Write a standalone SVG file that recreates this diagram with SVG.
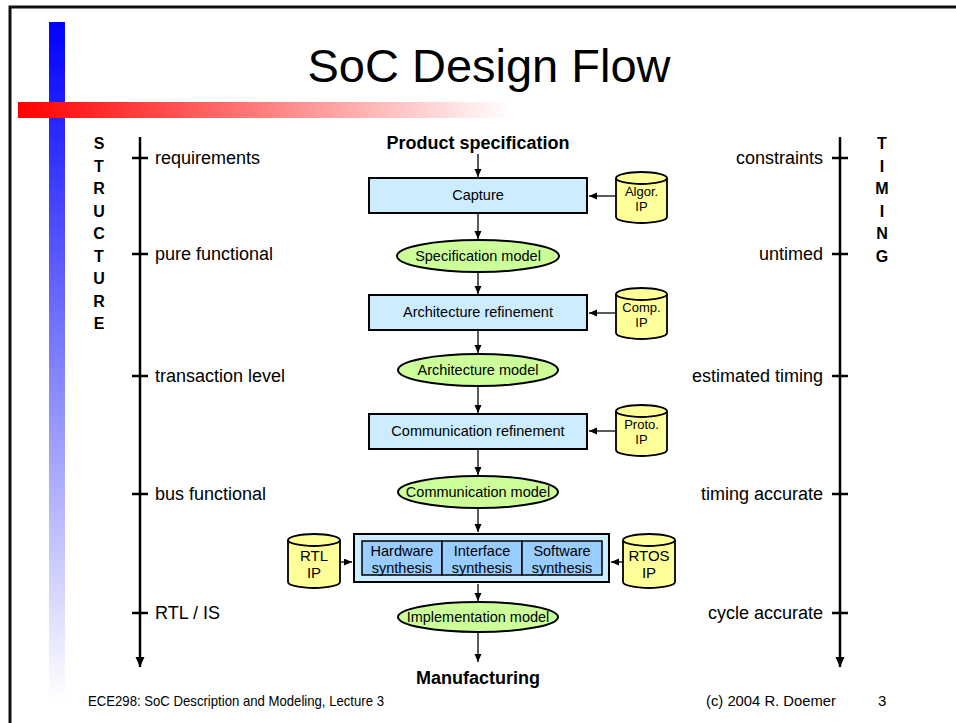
<svg xmlns="http://www.w3.org/2000/svg" width="956" height="723" viewBox="0 0 956 723">
  <defs>
    <linearGradient id="gradBlue" x1="0" y1="0" x2="0" y2="1">
      <stop offset="0" stop-color="#0000ff"/>
      <stop offset="1" stop-color="#ffffff"/>
    </linearGradient>
    <linearGradient id="gradRed" x1="0" y1="0" x2="1" y2="0">
      <stop offset="0" stop-color="#ff0000"/>
      <stop offset="1" stop-color="#ffffff"/>
    </linearGradient>
    <marker id="arr" markerUnits="userSpaceOnUse" markerWidth="9" markerHeight="8" refX="8" refY="3.5" orient="auto">
      <path d="M0,0 L8,3.5 L0,7 z" fill="#000"/>
    </marker>
    <marker id="arrAxis" markerUnits="userSpaceOnUse" markerWidth="11" markerHeight="10" refX="10" refY="4.5" orient="auto">
      <path d="M0,0 L10,4.5 L0,9 z" fill="#000"/>
    </marker>
  </defs>
  <style>
    text { font-family: "Liberation Sans", Arial, sans-serif; fill: #000; }
    .title { font-size: 47px; text-anchor: middle; }
    .lbl { font-size: 18px; }
    .lblR { font-size: 18px; text-anchor: end; }
    .axisLetter { font-size: 16px; font-weight: bold; text-anchor: middle; }
    .endpoint { font-size: 18px; font-weight: bold; text-anchor: middle; }
    .box { fill: #ccecff; stroke: #000; stroke-width: 2; }
    .model { fill: #ccff99; stroke: #000; stroke-width: 2; }
    .db { fill: #ffff99; stroke: #000; stroke-width: 1.8; }
    .inner { fill: #99ccff; stroke: #000; stroke-width: 1.5; }
    .t { font-size: 14.5px; text-anchor: middle; }
    .dbt { font-size: 13px; text-anchor: middle; }
    .dbtL { font-size: 15px; text-anchor: middle; }
    .conn { stroke: #000; stroke-width: 1.3; fill: none; marker-end: url(#arr); }
    .axis { stroke: #000; stroke-width: 2.5; fill: none; marker-end: url(#arrAxis); }
    .tick { stroke: #000; stroke-width: 2.5; }
    .foot { font-size: 15px; }
  </style>

  <!-- slide background and frame -->
  <rect x="0" y="0" width="956" height="723" fill="#ffffff"/>
  <path d="M10,723 V7 H956" fill="none" stroke="#111" stroke-width="3"/>

  <!-- decorative bars -->
  <rect x="49" y="22" width="16" height="678" fill="url(#gradBlue)"/>
  <rect x="18" y="102" width="494" height="16" fill="url(#gradRed)"/>

  <text class="title" x="489" y="82">SoC Design Flow</text>

  <!-- structure axis -->
  <g id="structure-axis">
    <line class="axis" x1="140" y1="137" x2="140" y2="667"/>
    <line class="tick" x1="132" y1="158" x2="148" y2="158"/>
    <line class="tick" x1="132" y1="254" x2="148" y2="254"/>
    <line class="tick" x1="132" y1="376" x2="148" y2="376"/>
    <line class="tick" x1="132" y1="494" x2="148" y2="494"/>
    <line class="tick" x1="132" y1="613" x2="148" y2="613"/>
    <text class="lbl" x="155" y="164">requirements</text>
    <text class="lbl" x="155" y="260">pure functional</text>
    <text class="lbl" x="155" y="382">transaction level</text>
    <text class="lbl" x="155" y="500">bus functional</text>
    <text class="lbl" x="155" y="619">RTL / IS</text>
    <text class="axisLetter" x="99" y="149">S</text>
    <text class="axisLetter" x="99" y="171.5">T</text>
    <text class="axisLetter" x="99" y="194">R</text>
    <text class="axisLetter" x="99" y="216.5">U</text>
    <text class="axisLetter" x="99" y="239">C</text>
    <text class="axisLetter" x="99" y="261.5">T</text>
    <text class="axisLetter" x="99" y="284">U</text>
    <text class="axisLetter" x="99" y="306.5">R</text>
    <text class="axisLetter" x="99" y="329">E</text>
  </g>

  <!-- timing axis -->
  <g id="timing-axis">
    <line class="axis" x1="840" y1="137" x2="840" y2="667"/>
    <line class="tick" x1="832" y1="158" x2="848" y2="158"/>
    <line class="tick" x1="832" y1="254" x2="848" y2="254"/>
    <line class="tick" x1="832" y1="376" x2="848" y2="376"/>
    <line class="tick" x1="832" y1="494" x2="848" y2="494"/>
    <line class="tick" x1="832" y1="613" x2="848" y2="613"/>
    <text class="lblR" x="823" y="164">constraints</text>
    <text class="lblR" x="823" y="260">untimed</text>
    <text class="lblR" x="823" y="382">estimated timing</text>
    <text class="lblR" x="823" y="500">timing accurate</text>
    <text class="lblR" x="823" y="619">cycle accurate</text>
    <text class="axisLetter" x="882" y="149">T</text>
    <text class="axisLetter" x="882" y="171.5">I</text>
    <text class="axisLetter" x="882" y="194">M</text>
    <text class="axisLetter" x="882" y="216.5">I</text>
    <text class="axisLetter" x="882" y="239">N</text>
    <text class="axisLetter" x="882" y="261.5">G</text>
  </g>

  <!-- flow endpoints -->
  <g id="product-spec"><text class="endpoint" x="478" y="149">Product specification</text></g>
  <g id="manufacturing"><text class="endpoint" x="478" y="684">Manufacturing</text></g>

  <!-- refinement steps -->
  <g id="capture">
    <rect class="box" x="369" y="178" width="218" height="35"/>
    <text class="t" x="478" y="200">Capture</text>
  </g>
  <g id="spec-model">
    <ellipse class="model" cx="478" cy="256" rx="81" ry="16"/>
    <text class="t" x="478" y="261">Specification model</text>
  </g>
  <g id="arch-refinement">
    <rect class="box" x="369" y="295" width="218" height="35"/>
    <text class="t" x="478" y="317">Architecture refinement</text>
  </g>
  <g id="arch-model">
    <ellipse class="model" cx="478" cy="370" rx="80" ry="16"/>
    <text class="t" x="478" y="375">Architecture model</text>
  </g>
  <g id="comm-refinement">
    <rect class="box" x="369" y="414" width="218" height="35"/>
    <text class="t" x="478" y="436">Communication refinement</text>
  </g>
  <g id="comm-model">
    <ellipse class="model" cx="478" cy="492" rx="80" ry="16"/>
    <text class="t" x="478" y="497">Communication model</text>
  </g>
  <g id="synthesis">
    <rect class="box" x="354" y="534" width="255" height="48" stroke-width="3"/>
    <rect class="inner" x="362" y="541" width="80" height="34"/>
    <rect class="inner" x="442" y="541" width="80" height="34"/>
    <rect class="inner" x="522" y="541" width="80" height="34"/>
    <text class="t" x="402" y="556">Hardware</text>
    <text class="t" x="402" y="573">synthesis</text>
    <text class="t" x="482" y="556">Interface</text>
    <text class="t" x="482" y="573">synthesis</text>
    <text class="t" x="562" y="556">Software</text>
    <text class="t" x="562" y="573">synthesis</text>
  </g>
  <g id="impl-model">
    <ellipse class="model" cx="478" cy="617" rx="80" ry="15"/>
    <text class="t" x="478" y="622">Implementation model</text>
  </g>

  <!-- IP libraries -->
  <g id="algor-ip">
    <path class="db" d="M616,178 A25.5,6 0 0 1 667,178 V217 A25.5,6 0 0 1 616,217 Z"/>
    <path class="db" d="M616,178 A25.5,6 0 0 0 667,178" fill="none"/>
    <text class="dbt" x="641.5" y="196">Algor.</text>
    <text class="dbt" x="641.5" y="211">IP</text>
  </g>
  <g id="comp-ip">
    <path class="db" d="M616,294 A25.5,6 0 0 1 667,294 V333 A25.5,6 0 0 1 616,333 Z"/>
    <path class="db" d="M616,294 A25.5,6 0 0 0 667,294" fill="none"/>
    <text class="dbt" x="641.5" y="312">Comp.</text>
    <text class="dbt" x="641.5" y="327">IP</text>
  </g>
  <g id="proto-ip">
    <path class="db" d="M616,411 A25.5,6 0 0 1 667,411 V450 A25.5,6 0 0 1 616,450 Z"/>
    <path class="db" d="M616,411 A25.5,6 0 0 0 667,411" fill="none"/>
    <text class="dbt" x="641.5" y="429">Proto.</text>
    <text class="dbt" x="641.5" y="444">IP</text>
  </g>
  <g id="rtl-ip">
    <path class="db" d="M288,540 A26,6 0 0 1 340,540 V582 A26,6 0 0 1 288,582 Z"/>
    <path class="db" d="M288,540 A26,6 0 0 0 340,540" fill="none"/>
    <text class="dbtL" x="314" y="561">RTL</text>
    <text class="dbtL" x="314" y="578">IP</text>
  </g>
  <g id="rtos-ip">
    <path class="db" d="M623,540 A26,6 0 0 1 675,540 V582 A26,6 0 0 1 623,582 Z"/>
    <path class="db" d="M623,540 A26,6 0 0 0 675,540" fill="none"/>
    <text class="dbtL" x="649" y="561">RTOS</text>
    <text class="dbtL" x="649" y="578">IP</text>
  </g>

  <!-- connectors -->
  <g id="connectors">
    <line class="conn" x1="478" y1="154" x2="478" y2="177"/>
    <line class="conn" x1="478" y1="214" x2="478" y2="239"/>
    <line class="conn" x1="478" y1="273" x2="478" y2="294"/>
    <line class="conn" x1="478" y1="331" x2="478" y2="353"/>
    <line class="conn" x1="478" y1="387" x2="478" y2="413"/>
    <line class="conn" x1="478" y1="450" x2="478" y2="475"/>
    <line class="conn" x1="478" y1="509" x2="478" y2="532"/>
    <line class="conn" x1="478" y1="584" x2="478" y2="601"/>
    <line class="conn" x1="478" y1="633" x2="478" y2="662"/>
    <line class="conn" x1="616" y1="196" x2="589" y2="196"/>
    <line class="conn" x1="616" y1="313" x2="589" y2="313"/>
    <line class="conn" x1="616" y1="431" x2="589" y2="431"/>
    <line class="conn" x1="340" y1="562" x2="352" y2="562"/>
    <line class="conn" x1="623" y1="562" x2="611" y2="562"/>
  </g>

  <!-- footer -->
  <text class="foot" x="88" y="706" textLength="296" lengthAdjust="spacingAndGlyphs">ECE298: SoC Description and Modeling, Lecture 3</text>
  <text class="foot" x="706" y="706" textLength="130" lengthAdjust="spacingAndGlyphs">(c) 2004 R. Doemer</text>
  <text class="foot" x="878" y="706">3</text>
</svg>
